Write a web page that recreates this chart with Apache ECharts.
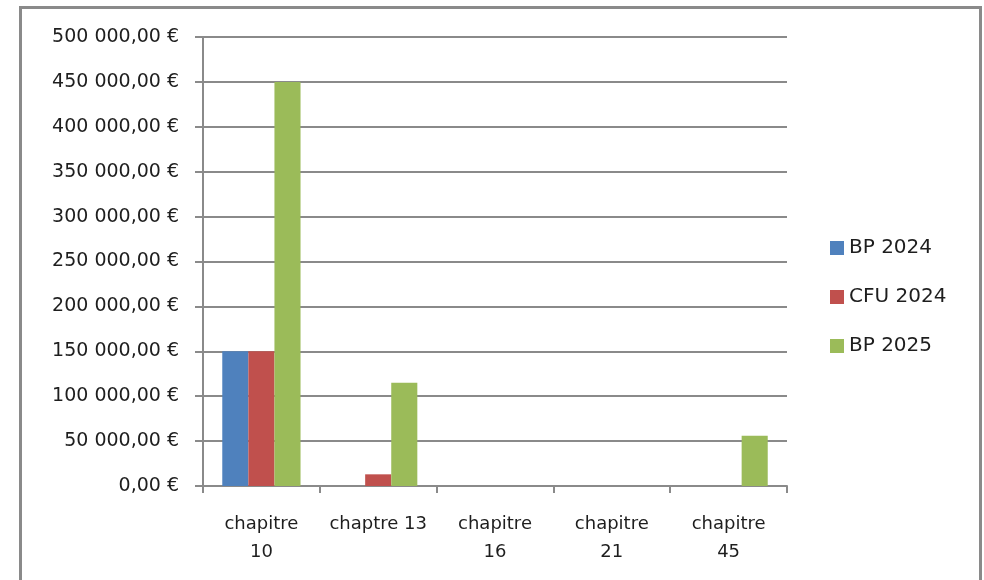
<!DOCTYPE html>
<html>
<head>
<meta charset="utf-8">
<script src="https://cdn.jsdelivr.net/npm/echarts@6/dist/echarts.min.js"></script>
<style>
  html, body { margin: 0; padding: 0; background: #fff; }
  #chart { width: 984px; height: 580px; }
</style>
</head>
<body>
<div id="chart"></div>
<script>
// Budget per chapter
const categories = ['chapitre 10', 'chaptre 13', 'chapitre 16', 'chapitre 21', 'chapitre 45'];
const seriesNames = ['BP 2024', 'CFU 2024', 'BP 2025'];
const bp2024 = [150000, 0, 0, 0, 0];
const cfu2024 = [150000, 13000, 0, 0, 0];
const bp2025 = [450000, 115000, 0, 0, 56000];
const colors = ['#4F81BD', '#C0504D', '#9BBB59'];

const FONT = 'DejaVu Sans';
const TEXT = '#1e1e1e';
const LINE = '#8a8a8a';

function euro(v) {
  const s = Math.round(v).toString().replace(/\B(?=(\d{3})+(?!\d))/g, '\u00a0');
  return s + ',00\u00a0€';
}

const chart = echarts.init(document.getElementById('chart'), null, { renderer: 'canvas' });
const values = [bp2024, cfu2024, bp2025];

chart.setOption({
  animation: false,
  backgroundColor: '#ffffff',
  graphic: [{
    type: 'rect',
    shape: { x: 20.5, y: 7.5, width: 960, height: 640 },
    style: { fill: 'none', stroke: LINE, lineWidth: 3 },
    silent: true
  }],
  grid: { left: 203, right: 197, top: 37, bottom: 94, containLabel: false },
  legend: {
    orient: 'vertical',
    left: 825,
    top: 233,
    icon: 'rect',
    itemWidth: 14,
    itemHeight: 14,
    itemGap: 29,
    textStyle: { fontFamily: FONT, fontSize: 20, color: TEXT, lineHeight: 20 },
    data: seriesNames
  },
  xAxis: {
    type: 'category',
    data: categories,
    axisLine: { lineStyle: { color: LINE, width: 2 } },
    axisTick: { show: true, length: 7, lineStyle: { color: LINE, width: 2 } },
    axisLabel: {
      interval: 0,
      margin: 24,
      fontFamily: FONT,
      fontSize: 18,
      lineHeight: 28,
      color: TEXT,
      formatter: v => v.replace('chapitre ', 'chapitre\n')
    }
  },
  yAxis: {
    type: 'value',
    min: 0,
    max: 500000,
    interval: 50000,
    axisLine: { show: true, lineStyle: { color: LINE, width: 2 } },
    axisTick: { show: true, length: 8, lineStyle: { color: LINE, width: 2 } },
    splitLine: { lineStyle: { color: LINE, width: 2 } },
    axisLabel: { margin: 24, fontFamily: FONT, fontSize: 19, color: TEXT, formatter: euro }
  },
  series: seriesNames.map((name, i) => ({
    name: name,
    type: 'bar',
    data: values[i],
    barGap: '0%',
    barCategoryGap: '33%',
    itemStyle: { color: colors[i] }
  }))
});
</script>
</body>
</html>
